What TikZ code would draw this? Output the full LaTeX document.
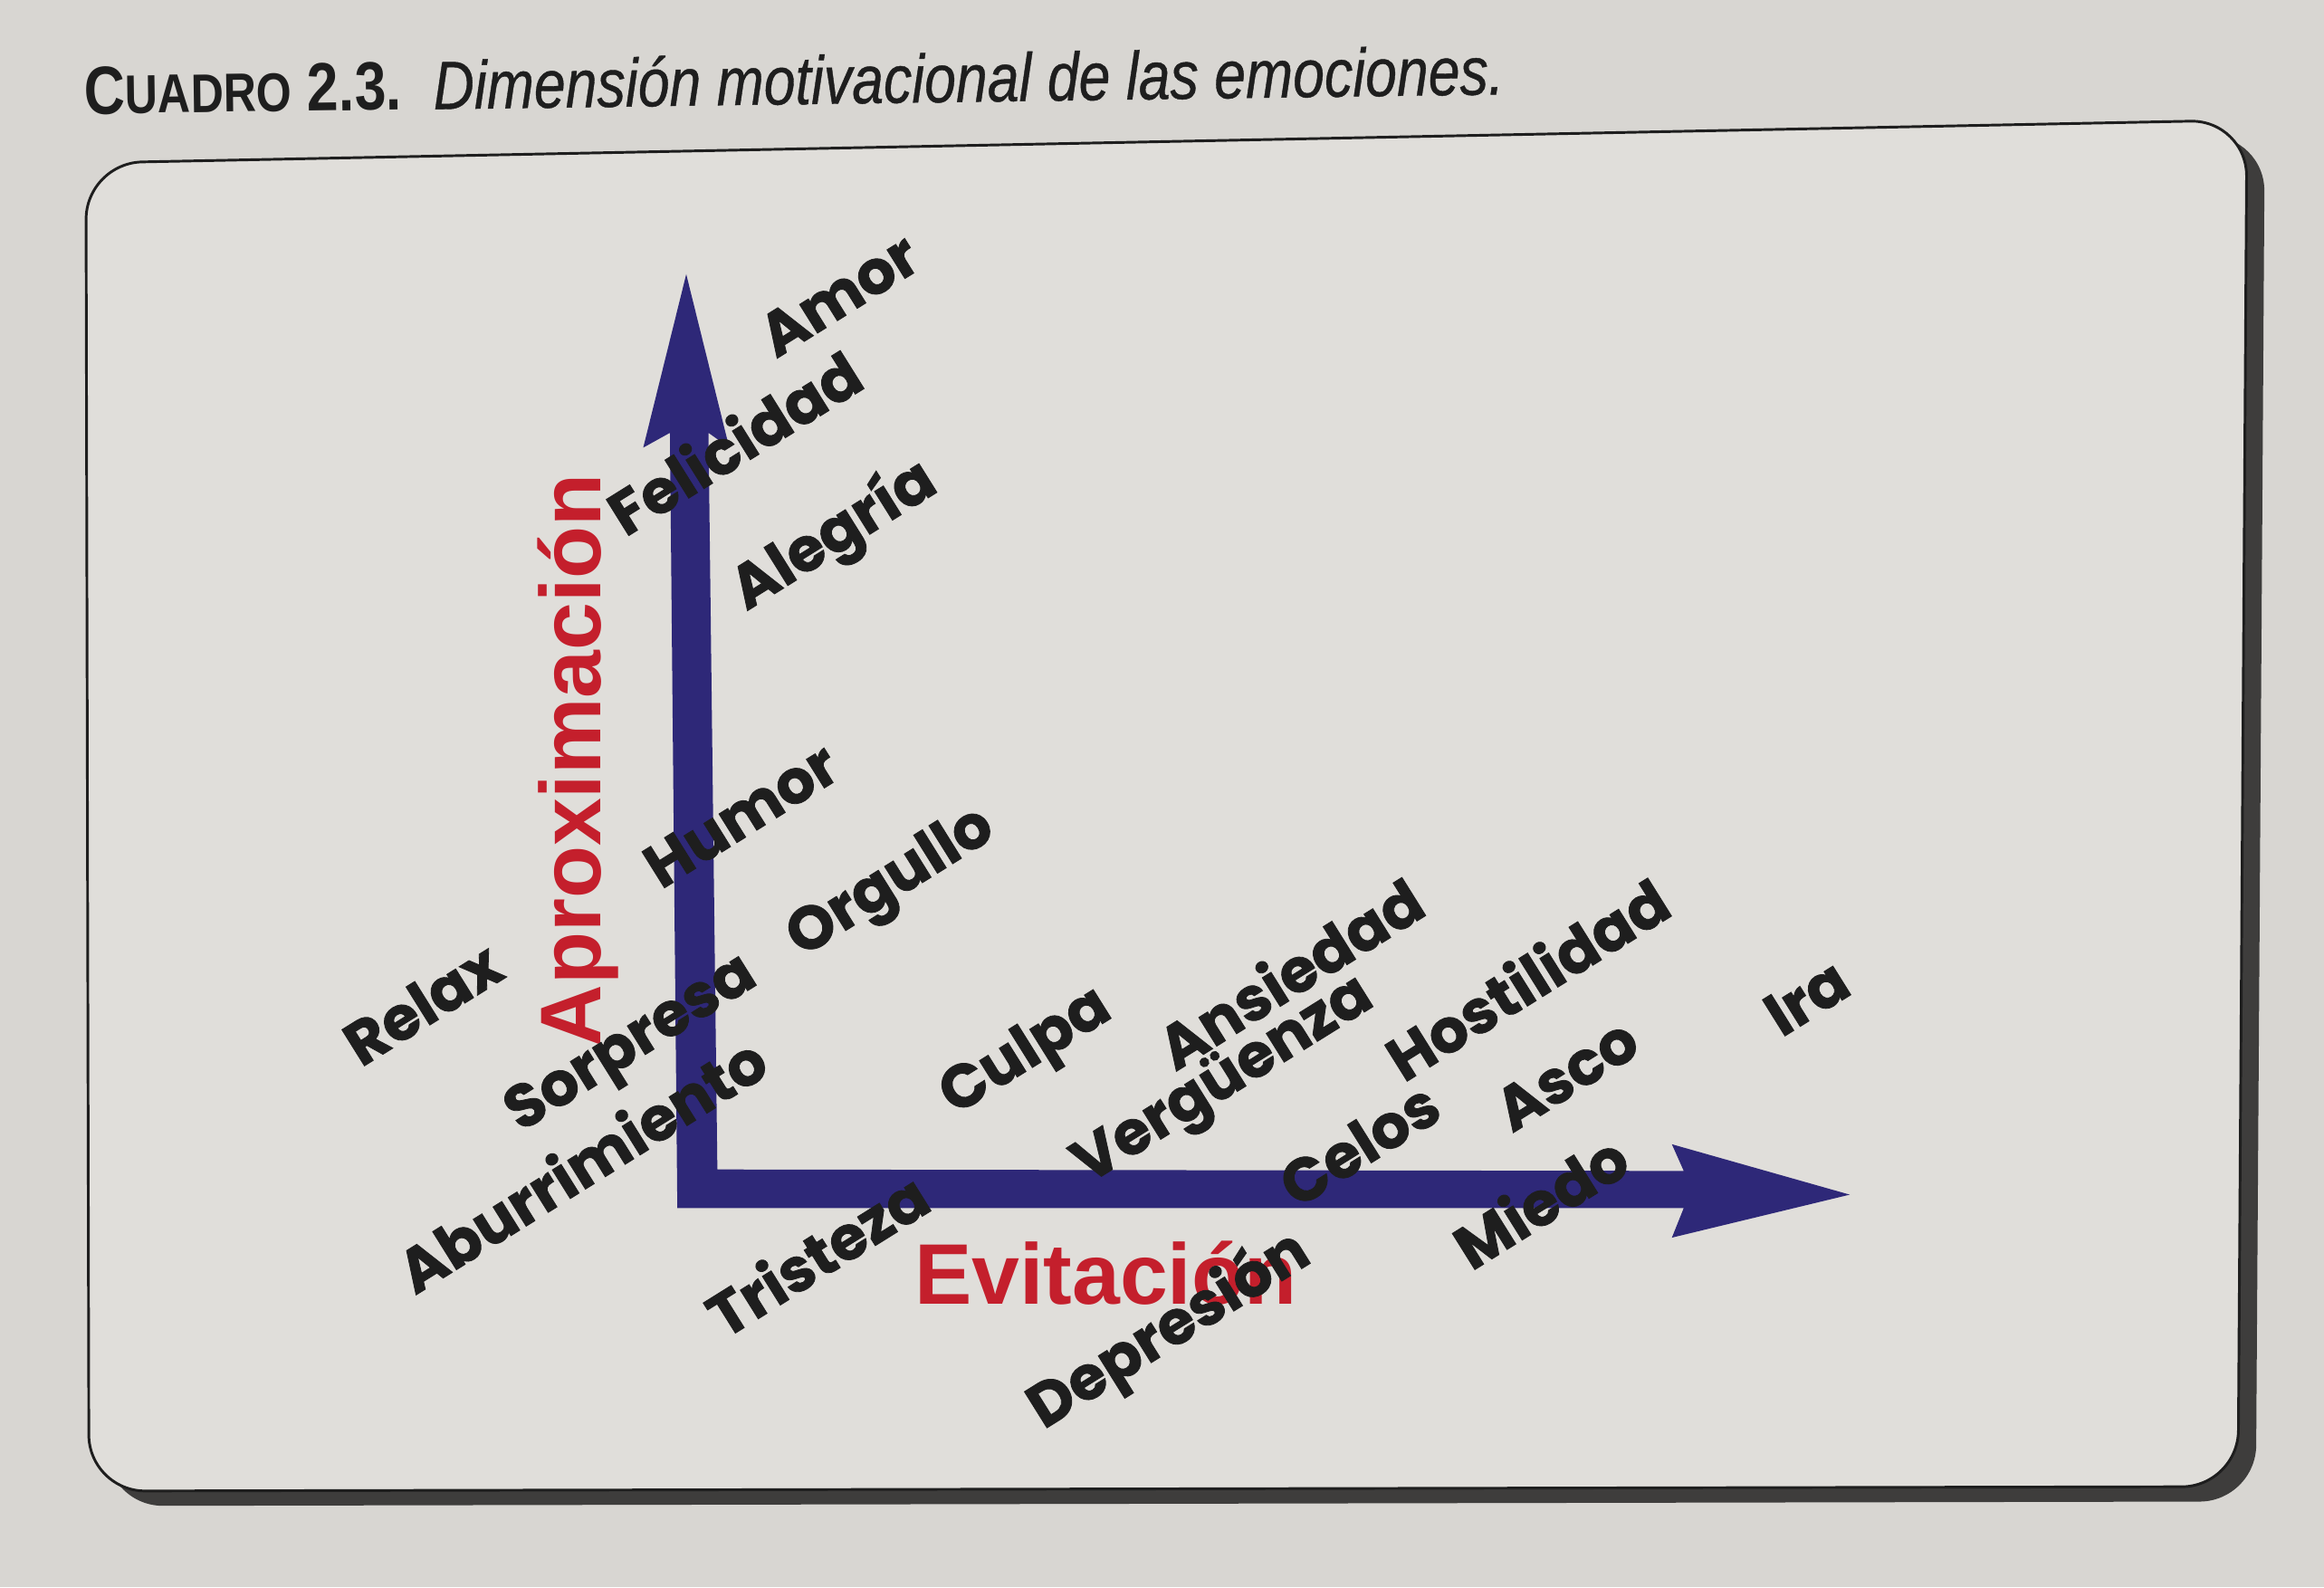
\documentclass[tikz,border=0pt]{standalone}
\usepackage{fontspec}
\setmainfont{Liberation Sans}
\newfontfamily\lblfont{Poppins}[BoldFeatures={FakeBold=1.2}]
\newfontfamily\ttlfont{Liberation Sans}[ItalicFeatures={FakeBold=0.6}]
\usepackage{graphicx}
\definecolor{pagec}{HTML}{D8D6D2}
\definecolor{boxc}{HTML}{E0DEDA}
\definecolor{shadowc}{HTML}{3E3D3C}
\definecolor{arrowc}{HTML}{2E2878}
\definecolor{axred}{HTML}{C41F2C}
\definecolor{inkc}{HTML}{1E1E1E}
\begin{document}
\begin{tikzpicture}[x=1pt,y=-1pt,
  lbl/.style={font=\lblfont\bfseries\fontsize{41}{41}\selectfont, text=inkc, rotate=32, inner sep=0pt},
  axislbl/.style={font=\bfseries\fontsize{58}{58}\selectfont, text=axred, inner sep=0pt, anchor=base}]
\useasboundingbox (0,0) rectangle (1568,1071);
\fill[pagec] (0,0) rectangle (1568,1071);
% title
\node[anchor=base west, rotate=0.8, inner sep=0pt, text=inkc] (title) at (57,77)
  {\resizebox{958pt}{\height}{\ttlfont\fontsize{46}{46}\selectfont\textbf{C\scalebox{0.8}{UADRO} 2.3.}\ \ \textit{Dimensión motivacional de las emociones.}}};
% box
\coordinate (tl) at (58,110);
\coordinate (tr) at (1516,81);
\coordinate (br) at (1510,1003);
\coordinate (bl) at (60,1006);
\fill[shadowc, rounded corners=38pt] ([shift={(12,10)}]tl) -- ([shift={(12,10)}]tr) -- ([shift={(12,10)}]br) -- ([shift={(12,10)}]bl) -- cycle;
\filldraw[fill=boxc, draw=inkc, line width=1.8pt, rounded corners=38pt] (tl) -- (tr) -- (br) -- (bl) -- cycle;
% axes
\coordinate (origin) at (457,815);
\coordinate (ytip) at (463,185);
\coordinate (xtip) at (1248,806);
\fill[arrowc] (origin) -- (452,292) -- (434,302) -- (ytip) -- (492,302) -- (478,292)
  -- (484,789) -- (1136,790) -- (1128,772) -- (xtip) -- (1128,835) -- (1136,815) -- cycle;
% axis labels
\node[axislbl, rotate=90] (aprox) at (405,513) {Aproximación};
\node[axislbl] (evit) at (746,880) {Evitación};
% emotion labels
\node[lbl] (amor) at (566,199) {Amor};
\node[lbl] (felicidad) at (495,298) {Felicidad};
\node[lbl] (alegria) at (563,362) {Alegría};
\node[lbl] (humor) at (500,550) {Humor};
\node[lbl] (orgullo) at (602,597) {Orgullo};
\node[lbl] (relax) at (285,677) {Relax};
\node[lbl] (sorpresa) at (427,706) {Sorpresa};
\node[lbl] (aburr) at (392,785) {Aburrimiento};
\node[lbl] (tristeza) at (551,846) {Tristeza};
\node[lbl] (culpa) at (693,711) {Culpa};
\node[lbl] (ansiedad) at (870,656) {Ansiedad};
\node[lbl] (verguenza) at (826,730) {Vergüenza};
\node[lbl] (hostilidad) at (1030,660) {Hostilidad};
\node[lbl] (celos) at (917,772) {Celos};
\node[lbl] (asco) at (1057,725) {Asco};
\node[lbl] (ira) at (1219,673) {Ira};
\node[lbl] (miedo) at (1039,810) {Miedo};
\node[lbl] (depresion) at (789,898) {Depresión};
\end{tikzpicture}
\end{document}
